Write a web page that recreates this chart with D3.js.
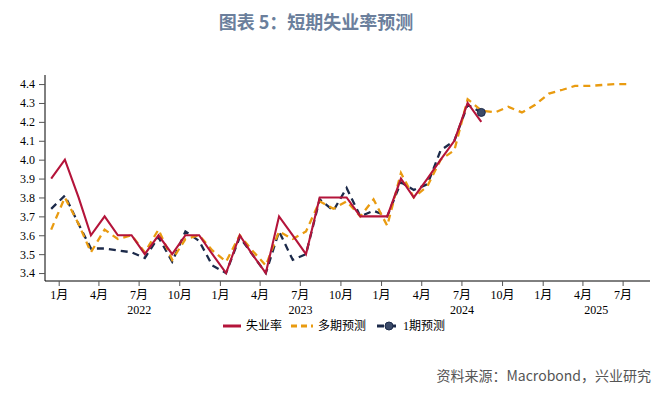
<!DOCTYPE html>
<html>
<head>
<meta charset="utf-8">
<script src="https://cdn.jsdelivr.net/npm/d3@7"></script>
<style>
  body { margin: 0; background: #fff; }
  svg text { font-family: "Liberation Serif", "Noto Sans CJK SC", serif; }
</style>
</head>
<body>
<div id="chart"></div>
<script>
// Data (monthly, Dec 2021 onwards)
const unemployment = [3.9, 4.0, 3.8, 3.6, 3.7, 3.6, 3.6, 3.5, 3.6, 3.5, 3.6, 3.6, 3.5,
    3.4, 3.6, 3.5, 3.4, 3.7, 3.6, 3.5, 3.8, 3.8, 3.8, 3.7, 3.7,
    3.7, 3.9, 3.8, 3.9, 4.0, 4.1, 4.3, 4.2];
const multiForecast = [3.63, 3.80, 3.66, 3.51, 3.63, 3.58, 3.60, 3.51, 3.63, 3.47, 3.58, 3.60, 3.52,
    3.46, 3.60, 3.52, 3.44, 3.62, 3.58, 3.62, 3.78, 3.74, 3.78, 3.70, 3.79,
    3.65, 3.93, 3.80, 3.86, 4.00, 4.05, 4.32, 4.26, 4.25, 4.28, 4.25, 4.29,
    4.35, 4.37, 4.39, 4.39, 4.395, 4.40, 4.40];
const oneForecast = [3.74, 3.81, 3.66, 3.53, 3.53, 3.52, 3.51, 3.48, 3.59, 3.46, 3.62, 3.57, 3.44,
    3.40, 3.59, 3.50, 3.40, 3.62, 3.47, 3.50, 3.79, 3.73, 3.85, 3.70, 3.73,
    3.70, 3.88, 3.84, 3.87, 4.05, 4.10, 4.29, 4.25];
const yTicks = [3.4, 3.5, 3.6, 3.7, 3.8, 3.9, 4.0, 4.1, 4.2, 4.3, 4.4];
const years = ["2022", "2023", "2024", "2025"];
const legendNames = ["失业率", "多期预测", "1期预测"];

const months = d3.timeMonth.range(new Date(2021, 11, 1), new Date(2025, 7, 1));

const width = 665, height = 394;
const svg = d3.select("#chart").append("svg")
    .attr("width", width).attr("height", height);

const x = d3.scaleTime()
    .domain([new Date(2021, 11, 1), new Date(2025, 8, 1)])
    .range([45, 650]);
const y = d3.scaleLinear().domain([3.358, 4.448]).range([281, 75]);
const mid = m => x(d3.timeDay.offset(m, 14));

// Title
svg.append("text")
    .attr("x", 316).attr("y", 29)
    .attr("text-anchor", "middle")
    .style("font-family", "'Noto Sans CJK SC', sans-serif")
    .style("font-size", "18px").style("font-weight", "bold")
    .attr("fill", "#6b7f9c")
    .text("图表 5：短期失业率预测");

// Y axis
const yAxis = svg.append("g")
    .attr("transform", "translate(45,0)")
    .call(d3.axisLeft(y).tickValues(yTicks).tickFormat(d3.format(".1f")).tickSize(6).tickPadding(4));
yAxis.select(".domain").attr("stroke", "#000").attr("d", "M0,75V281");
yAxis.selectAll(".tick line").attr("stroke", "#555");
yAxis.selectAll(".tick text").style("font-size", "12px").attr("fill", "#000")
    .style("font-family", "'Liberation Serif', serif");

// X axis
const xTicks = d3.timeMonth.every(3).range(new Date(2022, 0, 1), new Date(2025, 7, 2));
const xAxis = svg.append("g")
    .attr("transform", "translate(0,281)")
    .call(d3.axisBottom(x).tickValues(xTicks).tickFormat(d => (d.getMonth() + 1) + "月").tickSize(5).tickPadding(4));
xAxis.select(".domain").attr("stroke", "#000").attr("d", "M45,0H650");
xAxis.selectAll(".tick line").attr("stroke", "#555");
xAxis.selectAll(".tick text").style("font-size", "12px").attr("fill", "#000");

svg.selectAll(".year").data(years).enter().append("text")
    .attr("class", "year")
    .attr("x", d => {
        const a = Math.max(x.domain()[0], new Date(+d, 0, 1));
        const b = Math.min(x.domain()[1], new Date(+d + 1, 0, 1));
        return (x(a) + x(b)) / 2;
    })
    .attr("y", 314)
    .attr("text-anchor", "middle")
    .style("font-size", "12px")
    .text(d => d);

// Lines
const line = d3.line().x((d, i) => mid(months[i])).y(d => y(d));

svg.append("path").datum(oneForecast)
    .attr("fill", "none").attr("stroke", "#1c2a4a").attr("stroke-width", 2.3)
    .attr("stroke-dasharray", "7,5").attr("d", line);
svg.append("path").datum(multiForecast)
    .attr("fill", "none").attr("stroke", "#e99b10").attr("stroke-width", 2.3)
    .attr("stroke-dasharray", "7,5").attr("d", line);
svg.append("path").datum(unemployment)
    .attr("fill", "none").attr("stroke", "#b4143a").attr("stroke-width", 2.1)
    .attr("d", line);

const lastI = oneForecast.length - 1;
svg.append("circle")
    .attr("cx", mid(months[lastI])).attr("cy", y(oneForecast[lastI]))
    .attr("r", 4).attr("fill", "#3b4a68").attr("stroke", "#1c2a4a");

// Legend
const lg = svg.append("g").attr("transform", "translate(0,326)");
lg.append("line").attr("x1", 223).attr("x2", 241).attr("stroke", "#b4143a").attr("stroke-width", 3);
lg.append("line").attr("x1", 291).attr("x2", 313).attr("stroke", "#e99b10").attr("stroke-width", 3)
    .attr("stroke-dasharray", "6,4");
lg.append("line").attr("x1", 377).attr("x2", 401).attr("stroke", "#1c2a4a").attr("stroke-width", 3)
    .attr("stroke-dasharray", "7,5");
lg.append("circle").attr("cx", 389).attr("cy", 0).attr("r", 4)
    .attr("fill", "#3b4a68").attr("stroke", "#1c2a4a");
lg.selectAll("text").data(legendNames).enter().append("text")
    .attr("x", (d, i) => [246, 318, 403][i])
    .attr("y", 4)
    .style("font-size", "12px")
    .text(d => d);

// Source
svg.append("text")
    .attr("x", 651).attr("y", 381)
    .attr("text-anchor", "end")
    .style("font-family", "'Noto Sans CJK SC', sans-serif")
    .style("font-size", "14px")
    .attr("fill", "#555")
    .text("资料来源：Macrobond，兴业研究");
</script>
</body>
</html>
